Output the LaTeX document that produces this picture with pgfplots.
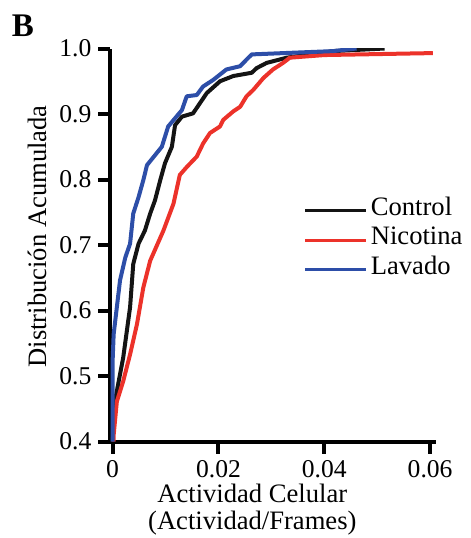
\documentclass[border=0pt]{standalone}
\usepackage{fontspec}
\setmainfont{Liberation Serif}
\usepackage{pgfplots}
\pgfplotsset{compat=1.18}
\definecolor{ctrl}{RGB}{20,20,20}
\definecolor{nico}{RGB}{236,50,42}
\definecolor{lava}{RGB}{45,78,168}

\begin{document}
\begin{tikzpicture}
\path[use as bounding box] (-55.25pt,-48.25pt) rectangle (180.25pt,220.75pt);
\begin{axis}[
  at={(0,0)}, anchor=south west,
  scale only axis, width=163pt, height=196.5pt,
  xmin=-0.0004, xmax=0.0612, ymin=0.4, ymax=1.0,
  axis x line*=bottom, axis y line*=left,
  axis line style={line width=2pt, -},
  xtick={0,0.02,0.04,0.06},
  ytick={0.4,0.5,0.6,0.7,0.8,0.9,1.0},
  scaled x ticks=false,
  tick align=outside, major tick length=6pt,
  tick style={line width=2pt, black},
  /pgf/number format/assume math mode=true,
  ticklabel style={font=\fontsize{12.8}{14}\selectfont},
  xticklabel style={/pgf/number format/fixed, /pgf/number format/precision=2},
  yticklabel style={/pgf/number format/fixed, /pgf/number format/fixed zerofill, /pgf/number format/precision=1},
  xlabel={Actividad Celular\\(Actividad/Frames)},
  xlabel style={align=center, font=\fontsize{13.3}{13.5}\selectfont, at={(axis description cs:0.435,-0.108)}, anchor=north, inner sep=0pt},
  ylabel={Distribución Acumulada},
  ylabel style={font=\fontsize{13.3}{15}\selectfont, at={(axis description cs:-0.225,0.522)}, anchor=center},
  legend cell align=left,
  legend style={at={(axis description cs:0.592,0.512)}, anchor=west, draw=none, fill=none,
    inner sep=0pt, row sep=0pt, font=\fontsize{13.3}{15}\selectfont,
    nodes={inner xsep=1.5pt, inner ysep=0pt, text height=9.7pt, text depth=5pt}},
  legend image code/.code={\draw[#1, line width=1.5pt] (0pt,0pt) -- (30.5pt,0pt);},
  every axis plot/.append style={line width=2pt, line join=round, no markers},
]
\addplot[ctrl] coordinates {
  (0,0.40) (0.0002,0.451) (0.0008,0.477) (0.0020,0.528) (0.0033,0.605) (0.0039,0.671)
  (0.0049,0.702) (0.0061,0.722) (0.0071,0.748) (0.0080,0.768) (0.0090,0.799) (0.0099,0.825)
  (0.0112,0.850) (0.0118,0.883) (0.0131,0.896) (0.0152,0.901) (0.0178,0.932) (0.0203,0.950)
  (0.0228,0.958) (0.0263,0.963) (0.0272,0.970) (0.0291,0.978) (0.0329,0.986) (0.0416,0.996)
  (0.0514,1.0)
};
\addlegendentry{Control}
\addplot[nico] coordinates {
  (0.0002,0.40) (0.0002,0.410) (0.0008,0.461) (0.0020,0.492) (0.0033,0.533) (0.0046,0.579)
  (0.0058,0.635) (0.0071,0.676) (0.0096,0.722) (0.0115,0.763) (0.0127,0.807) (0.0140,0.819)
  (0.0159,0.835) (0.0171,0.855) (0.0184,0.871) (0.0203,0.881) (0.0209,0.891) (0.0228,0.904)
  (0.0241,0.911) (0.0253,0.927) (0.0266,0.937) (0.0285,0.955) (0.0303,0.968) (0.0322,0.978)
  (0.0335,0.986) (0.0400,0.990) (0.0605,0.993)
};
\addlegendentry{Nicotina}
\addplot[lava] coordinates {
  (0,0.40) (0,0.523) (0.0002,0.564) (0.0008,0.605) (0.0014,0.646) (0.0024,0.681)
  (0.0033,0.702) (0.0039,0.748) (0.0049,0.773) (0.0058,0.799) (0.0065,0.822) (0.0083,0.840)
  (0.0093,0.850) (0.0105,0.881) (0.0131,0.906) (0.0140,0.927) (0.0159,0.929) (0.0171,0.942)
  (0.0190,0.952) (0.0215,0.968) (0.0241,0.973) (0.0253,0.983) (0.0263,0.991) (0.0354,0.994)
  (0.0416,0.996) (0.0461,1.0)
};
\addlegendentry{Lavado}
\end{axis}
\node[font=\bfseries\fontsize{16.5}{18}\selectfont, anchor=base west, inner sep=0pt] at (-49.5pt,202.75pt) {B};
\end{tikzpicture}
\end{document}
